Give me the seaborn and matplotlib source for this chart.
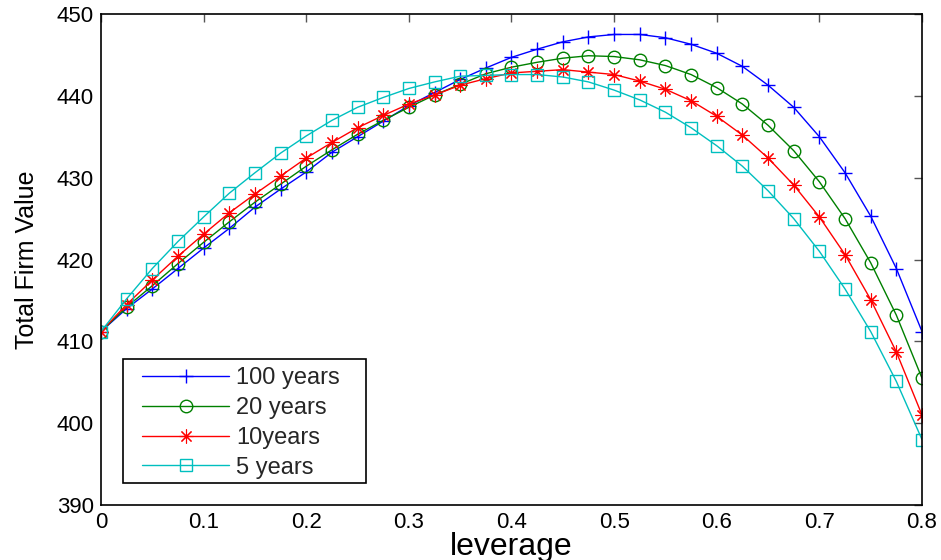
import numpy as np
import pandas as pd
import matplotlib
matplotlib.use("Agg")
import matplotlib.pyplot as plt
import matplotlib.patches as mpatches
import seaborn as sns

# Leverage grid and total firm value for each debt maturity
leverage = [0.0, 0.025, 0.05, 0.075, 0.1, 0.125, 0.15, 0.175, 0.2, 0.225, 0.25,
            0.275, 0.3, 0.325, 0.35, 0.375, 0.4, 0.425, 0.45, 0.475, 0.5, 0.525,
            0.55, 0.575, 0.6, 0.625, 0.65, 0.675, 0.7, 0.725, 0.75, 0.775, 0.8]

value_100y = [411.2, 414.0, 416.4, 418.9, 421.4, 423.8, 426.4, 428.6, 430.7, 433.1,
              435.0, 436.9, 438.8, 440.4, 442.0, 443.4, 444.7, 445.7, 446.6, 447.2,
              447.5, 447.5, 447.1, 446.3, 445.2, 443.6, 441.3, 438.6, 435.0, 430.6,
              425.3, 418.9, 411.2]

value_20y = [411.2, 414.2, 416.8, 419.5, 422.1, 424.6, 427.0, 429.2, 431.4, 433.4,
             435.3, 437.0, 438.6, 440.1, 441.4, 442.7, 443.5, 444.1, 444.6, 444.9,
             444.8, 444.4, 443.7, 442.6, 441.0, 439.0, 436.4, 433.3, 429.5, 425.0,
             419.6, 413.2, 405.5]

value_10y = [411.2, 414.5, 417.5, 420.4, 423.1, 425.7, 428.0, 430.2, 432.4, 434.3,
             436.1, 437.6, 439.0, 440.1, 441.3, 442.1, 442.8, 443.0, 443.2, 442.9,
             442.6, 441.8, 440.8, 439.4, 437.5, 435.2, 432.4, 429.1, 425.2, 420.6,
             415.1, 408.7, 401.0]

value_5y = [411.2, 415.2, 418.9, 422.2, 425.2, 428.1, 430.6, 433.0, 435.1, 437.0,
            438.6, 439.8, 440.9, 441.7, 442.4, 442.5, 442.6, 442.6, 442.3, 441.7,
            440.7, 439.5, 438.0, 436.1, 433.9, 431.4, 428.4, 425.0, 421.0, 416.4,
            411.2, 405.1, 398.0]

series_labels = ["100 years", "20 years", "10years", "5 years"]
x_ticks = [0, 0.1, 0.2, 0.3, 0.4, 0.5, 0.6, 0.7, 0.8]
x_tick_labels = ["0", "0.1", "0.2", "0.3", "0.4", "0.5", "0.6", "0.7", "0.8"]
y_ticks = [390, 400, 410, 420, 430, 440, 450]

sns.set_theme(style="white")
plt.rcParams["font.family"] = ["Liberation Sans", "DejaVu Sans"]

df = pd.DataFrame({"leverage": leverage,
                   "100 years": value_100y,
                   "20 years": value_20y,
                   "10years": value_10y,
                   "5 years": value_5y})

styles = {
    "100 years": dict(color="#0000FF", marker="+", markersize=10, mew=1.0),
    "20 years": dict(color="#008000", marker="o", markersize=9, mew=1.0),
    "10years": dict(color="#FF0000", marker=(8, 2, 0), markersize=10, mew=0.8),
    "5 years": dict(color="#00BFBF", marker="s", markersize=8, mew=1.0),
}

fig = plt.figure(figsize=(9.41, 5.6), dpi=100)
ax = fig.add_axes([101 / 941, 1 - 505 / 560, 821 / 941, 491 / 560])

for name in series_labels:
    st = styles[name]
    sns.lineplot(data=df, x="leverage", y=name, ax=ax, label=name,
                 color=st["color"], marker=st["marker"], markersize=st["markersize"],
                 markerfacecolor="none", markeredgecolor=st["color"],
                 markeredgewidth=st["mew"], linewidth=1.0, errorbar=None)

ax.set_xlim(0, 0.8)
ax.set_ylim(390, 450)
ax.set_xticks(x_ticks)
ax.set_xticklabels(x_tick_labels)
ax.set_yticks(y_ticks)
ax.tick_params(direction="in", length=6, width=1, color="#555555",
               top=True, right=True, labelsize=16, labelcolor="black", pad=5)
for sp in ax.spines.values():
    sp.set_color("black")
    sp.set_linewidth(1.2)
    sp.set_visible(True)

ax.set_xlabel("leverage", fontsize=23, labelpad=-1, color="black")
ax.set_ylabel("Total Firm Value", fontsize=18, labelpad=13, color="black")

# legend frame and entries
frame = mpatches.Rectangle((22 / 821, 22 / 491), 243 / 821, 124 / 491,
                           transform=ax.transAxes, facecolor="white",
                           edgecolor="black", linewidth=1.2, zorder=4.5)
ax.add_patch(frame)
leg = ax.legend(loc="center left", bbox_to_anchor=(41 / 821, 82 / 491),
                frameon=False, fontsize=17, handlelength=3.7,
                handletextpad=0.3, labelspacing=0.33, borderpad=0,
                borderaxespad=0)
leg.set_zorder(5)

fig.savefig("out.png", dpi=100)
